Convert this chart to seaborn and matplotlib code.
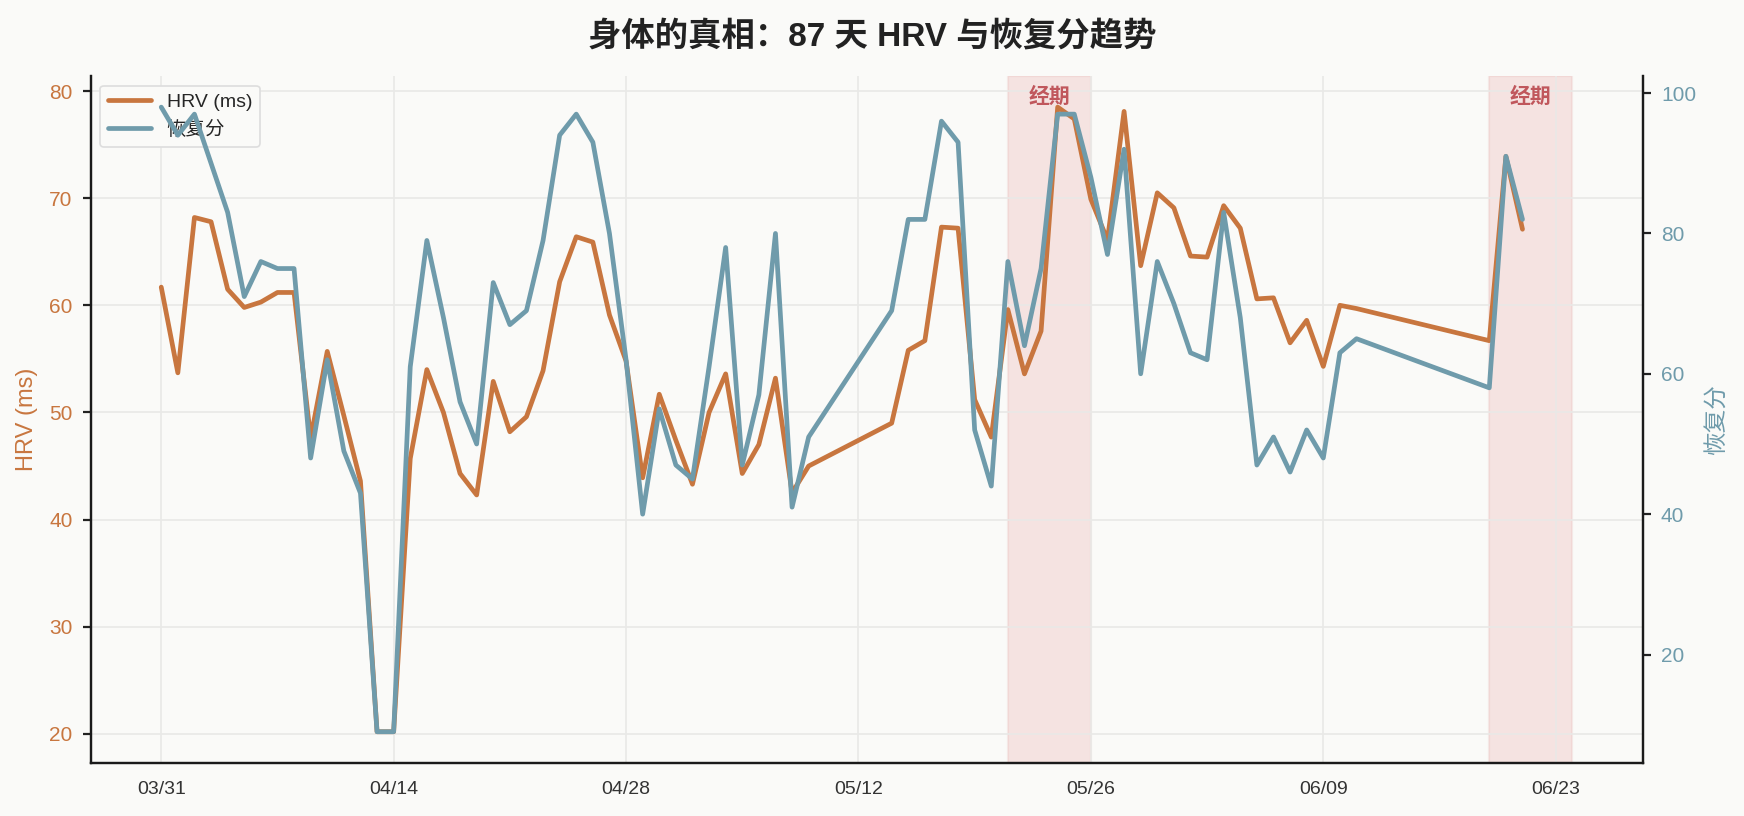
import matplotlib as mpl
mpl.use('Agg')
import matplotlib.pyplot as plt
import matplotlib.dates as mdates
import matplotlib.transforms as mtransforms
from matplotlib.lines import Line2D
import seaborn as sns
import pandas as pd

# days with data (gaps 04/10-04/13... are real missing days)
dates = list(pd.date_range('2025-03-31', '2025-05-09')) \
    + list(pd.date_range('2025-05-14', '2025-06-11')) \
    + list(pd.date_range('2025-06-19', '2025-06-21'))

hrv = [61.7, 53.7, 68.2, 67.8, 61.5, 59.8, 60.3, 61.2, 61.2, 47.6,
       55.7, 49.7, 43.6, 20.2, 20.2, 45.7, 54.0, 50.0, 44.3, 42.3,
       52.9, 48.2, 49.6, 53.9, 62.2, 66.4, 65.9, 59.1, 54.8, 43.9,
       51.7, 47.4, 43.3, 50.0, 53.6, 44.3, 47.0, 53.2, 42.5, 45.0,
       49.0, 55.8, 56.7, 67.3, 67.2, 51.2, 47.7, 59.6, 53.6, 57.6,
       78.5, 77.4, 69.9, 66.1, 78.1, 63.7, 70.5, 69.1, 64.6, 64.5,
       69.3, 67.2, 60.6, 60.7, 56.5, 58.6, 54.3, 60.0, 59.7,
       56.7, 73.9, 67.1]

recovery = [98, 94, 97, 90, 83, 71, 76, 75, 75, 48,
            62, 49, 43, 9, 9, 61, 79, 68, 56, 50,
            73, 67, 69, 79, 94, 97, 93, 80, 62, 40,
            55, 47, 45, 61, 78, 47, 57, 80, 41, 51,
            69, 82, 82, 96, 93, 52, 44, 76, 64, 75,
            97, 97, 88, 77, 92, 60, 76, 70, 63, 62,
            83, 68, 47, 51, 46, 52, 48, 63, 65,
            58, 91, 82]

period_starts = ['2025-05-21', '2025-06-19']
period_ends = ['2025-05-26', '2025-06-24']
xtick_dates = pd.date_range('2025-03-31', periods=7, freq='14D')

title = '身体的真相：87 天 HRV 与恢复分趋势'

df = pd.DataFrame({'date': dates, 'hrv': hrv, 'recovery': recovery})

c_hrv = '#C8763F'
c_rec = '#6F9BAB'
bg = '#FAFAF8'

sns.set_style('white')
plt.rcParams['font.family'] = ['Liberation Sans', 'Noto Sans CJK SC', 'DejaVu Sans']
plt.rcParams['axes.unicode_minus'] = False

fig = plt.figure(figsize=(8.72, 4.08), dpi=200, facecolor=bg)
ax1 = fig.add_axes([0.052, 0.065, 0.89, 0.842])
ax1.set_facecolor(bg)

# period shading
for s, e in zip(period_starts, period_ends):
    ax1.axvspan(pd.Timestamp(s), pd.Timestamp(e), facecolor='#E8A0A0', alpha=0.25,
                edgecolor='#E6B4B4', lw=0.8, zorder=0)
    mid = pd.Timestamp(s) + (pd.Timestamp(e) - pd.Timestamp(s)) / 2
    trans = mtransforms.blended_transform_factory(ax1.transData, ax1.transAxes)
    ax1.text(mid, 0.985, '经期', transform=trans, ha='center', va='top',
             color='#C0575C', fontsize=7.5, fontweight='bold')

sns.lineplot(data=df, x='date', y='hrv', ax=ax1, color=c_hrv, lw=1.7, zorder=3)
ax2 = ax1.twinx()
sns.lineplot(data=df, x='date', y='recovery', ax=ax2, color=c_rec, lw=1.7, zorder=3)

ax1.grid(True, color='#E9E9E7', lw=0.6)
ax1.set_axisbelow(True)

ax1.set_xticks(xtick_dates)
ax1.xaxis.set_major_formatter(mdates.DateFormatter('%m/%d'))
ax1.set_xlabel('')
ax1.set_ylabel('HRV (ms)', color=c_hrv, fontsize=8.5)
ax2.set_ylabel('恢复分', color=c_rec, fontsize=8.5)
ax1.set_yticks([20, 30, 40, 50, 60, 70, 80])
ax2.set_yticks([20, 40, 60, 80, 100])

ax1.tick_params(axis='y', labelcolor=c_hrv, labelsize=7.5, length=3, width=0.8, color='#222222')
ax2.tick_params(axis='y', labelcolor=c_rec, labelsize=7.5, length=3, width=0.8, color='#222222')
ax1.tick_params(axis='x', labelcolor='#333333', labelsize=7, length=3, width=0.8, color='#222222')

for ax in (ax1, ax2):
    ax.spines['top'].set_visible(False)
    for sp in ('left', 'right', 'bottom'):
        ax.spines[sp].set_color('#1a1a1a')
        ax.spines[sp].set_linewidth(0.8)

handles = [Line2D([], [], color=c_hrv, lw=1.7), Line2D([], [], color=c_rec, lw=1.7)]
leg = ax1.legend(handles, ['HRV (ms)', '恢复分'], loc='upper left', fontsize=7,
                 frameon=True, facecolor=bg, edgecolor='#DDDDDD', framealpha=1,
                 borderpad=0.4, handlelength=2.2)
leg.get_frame().set_linewidth(0.6)

fig.suptitle(title, fontsize=12, fontweight='bold', color='#222222', y=0.975)

fig.savefig('out.png', dpi=200, facecolor=bg)
